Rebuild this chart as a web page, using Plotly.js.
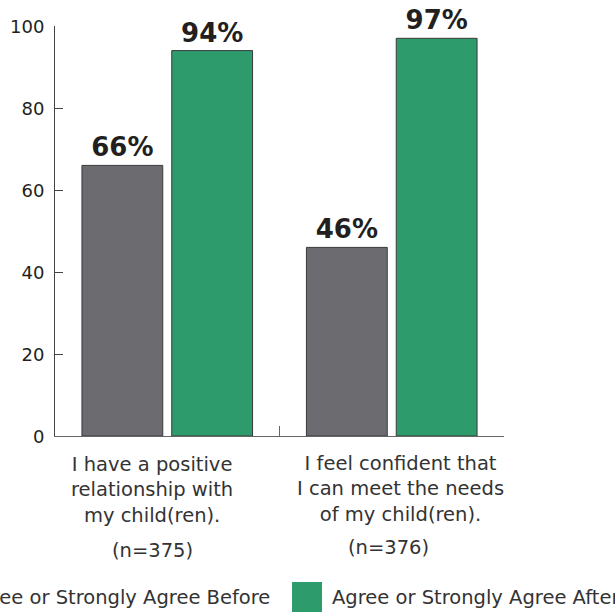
<!DOCTYPE html>
<html>
<head>
<meta charset="utf-8">
<script src="https://cdn.plot.ly/plotly-3.0.1.min.js"></script>
<style>html,body{margin:0;padding:0;background:#fff;}</style>
</head>
<body>
<div id="chart" style="width:615px;height:613px;"></div>
<script>
const categories = ["cat1", "cat2"];
const categoryLabels = [
  "I have a positive<br>relationship with<br>my child(ren).",
  "I feel confident that<br>I can meet the needs<br>of my child(ren)."
];
const sampleSizes = ["(n=375)", "(n=376)"];
const seriesNames = ["Agree or Strongly Agree Before", "Agree or Strongly Agree After"];
const beforeValues = [66, 46];
const afterValues = [94, 97];
const yTicks = [0, 20, 40, 60, 80, 100];

const colors = ["#6c6c70", "#2e9b6d"];
const textColor = "#231f20";
const labelColor = "#333333";
const axisColor = "#666666";
const FONT = "DejaVu Sans";

function barTrace(name, values, color) {
  return {
    type: "bar",
    name: name,
    x: categories,
    y: values,
    marker: {color: color, line: {color: "#3a3a3a", width: 1}},
    text: values.map(v => v + "%"),
    textposition: "outside",
    textfont: {family: FONT, size: 26, color: textColor, weight: "bold"},
    constraintext: "none",
    cliponaxis: false,
    hoverinfo: "skip"
  };
}

const data = [
  barTrace(seriesNames[0], beforeValues, colors[0]),
  barTrace(seriesNames[1], afterValues, colors[1])
];

// plot area geometry (px) used to place labels / legend in paper coords
const L = 55, PW = 449, T = 26, PH = 410;
const px = v => (v - L) / PW;
const py = v => (T + PH - v) / PH;

const labelShift = [-15, 9];
const nShift = [-15, -3];
const labelY = [490, 489];
const nY = [550, 547];

const annotations = [];
categories.forEach((c, i) => {
  annotations.push({
    x: c, xref: "x", y: py(labelY[i]), yref: "paper", xshift: labelShift[i],
    text: categoryLabels[i], showarrow: false, align: "center",
    xanchor: "center", yanchor: "middle",
    font: {family: FONT, size: 19.5, color: labelColor}
  });
  annotations.push({
    x: c, xref: "x", y: py(nY[i]), yref: "paper", xshift: nShift[i],
    text: sampleSizes[i], showarrow: false,
    xanchor: "center", yanchor: "middle",
    font: {family: FONT, size: 19.5, color: labelColor}
  });
});
annotations.push({
  x: px(272), xref: "paper", y: py(597), yref: "paper",
  text: seriesNames[0], showarrow: false, xanchor: "right", yanchor: "middle",
  font: {family: FONT, size: 19.5, color: labelColor}
});
annotations.push({
  x: px(330), xref: "paper", y: py(597), yref: "paper",
  text: seriesNames[1], showarrow: false, xanchor: "left", yanchor: "middle",
  font: {family: FONT, size: 19.5, color: labelColor}
});

const shapes = [
  {type: "rect", xref: "paper", yref: "paper", x0: px(-90), x1: px(-60), y0: py(612), y1: py(582),
   fillcolor: colors[0], line: {width: 0}},
  {type: "rect", xref: "paper", yref: "paper", x0: px(292), x1: px(322), y0: py(612), y1: py(582),
   fillcolor: colors[1], line: {width: 0}}
];

const layout = {
  width: 615, height: 613,
  margin: {l: L, r: 615 - L - PW, t: T, b: 613 - T - PH, autoexpand: false},
  paper_bgcolor: "#ffffff", plot_bgcolor: "#ffffff",
  font: {family: FONT, color: textColor},
  showlegend: false,
  barmode: "group",
  bargap: 0.2,
  bargroupgap: 0.1,
  xaxis: {
    type: "category",
    range: [-0.5, 1.5],
    tickvals: categories,
    showticklabels: false,
    tickson: "boundaries",
    ticks: "inside", ticklen: 10, tickcolor: axisColor, tickwidth: 1,
    showline: true, linecolor: axisColor, linewidth: 1,
    showgrid: false, zeroline: false,
    fixedrange: true
  },
  yaxis: {
    range: [0, 100],
    tickvals: yTicks,
    ticks: "inside", ticklen: 8, tickcolor: "#444444", tickwidth: 1,
    showline: true, linecolor: "#444444", linewidth: 1,
    showgrid: false, zeroline: false,
    tickfont: {family: FONT, size: 18, color: textColor},
    ticklabelstandoff: 6,
    ticklabelshift: 1,
    fixedrange: true
  },
  annotations: annotations,
  shapes: shapes
};

Plotly.newPlot("chart", data, layout, {displayModeBar: false, staticPlot: true});
</script>
</body>
</html>
